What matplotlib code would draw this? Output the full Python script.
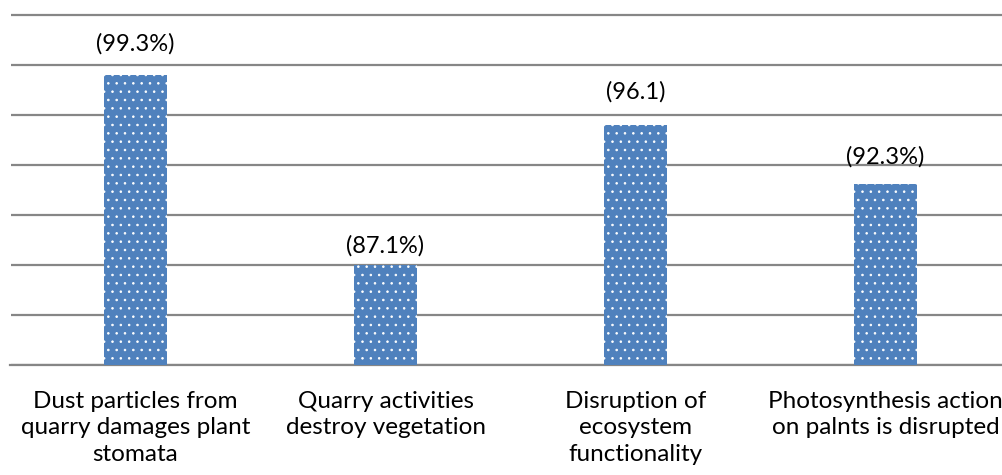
import matplotlib

matplotlib.use("Agg")
import matplotlib.pyplot as plt
import numpy as np

categories = [
    "Dust particles from\nquarry damages plant\nstomata",
    "Quarry activities\ndestroy vegetation",
    "Disruption of\necosystem\nfunctionality",
    "Photosynthesis action\non palnts is disrupted",
]
values = [99.3, 87.1, 96.1, 92.3]
value_labels = ["(99.3%)", "(87.1%)", "(96.1)", "(92.3%)"]

BLUE = "#4f81bd"
GRID = "#868686"
INK = "#000000"

plt.rcParams["font.family"] = ["Lato", "DejaVu Sans"]
plt.rcParams["hatch.linewidth"] = 0.6

fig = plt.figure(figsize=(10.02, 4.75), dpi=100)
# axes extended a few pixels above the top gridline so it is not clipped
ax = fig.add_axes([10.5 / 1002, 110 / 475, 1000 / 1002, 354 / 475])

x = np.arange(len(categories))
ax.bar(x, values, width=0.25, color=BLUE, edgecolor="white", linewidth=0, hatch="..", zorder=3)

ymin, ymax = 80.68, 103.16
ax.set_ylim(ymin, ymax + 4 / 15.57)
ax.set_xlim(-0.5, len(categories) - 0.5)
ax.set_yticks(np.linspace(ymin, ymax, 8))
ax.set_yticklabels([])
ax.tick_params(axis="y", length=0)
ax.grid(axis="y", color=GRID, linewidth=1.6, zorder=0)
ax.set_axisbelow(True)
for side in ("top", "right", "left"):
    ax.spines[side].set_visible(False)
ax.spines["bottom"].set_color(GRID)
ax.spines["bottom"].set_linewidth(1.6)

ax.set_xticks(x, categories, fontsize=17.5, color=INK, linespacing=1.3, va="top")
ax.tick_params(axis="x", length=0, pad=19)

# distance (px) from bar top to label baseline, as placed in the original
label_offsets = [25, 12, 26, 21]
for i, (v, lab) in enumerate(zip(values, value_labels)):
    ax.annotate(lab, (x[i], v), xytext=(0, label_offsets[i] * 0.72), textcoords="offset points",
                ha="center", va="baseline", fontsize=17, color=INK)

fig.savefig("out.png", dpi=100)
